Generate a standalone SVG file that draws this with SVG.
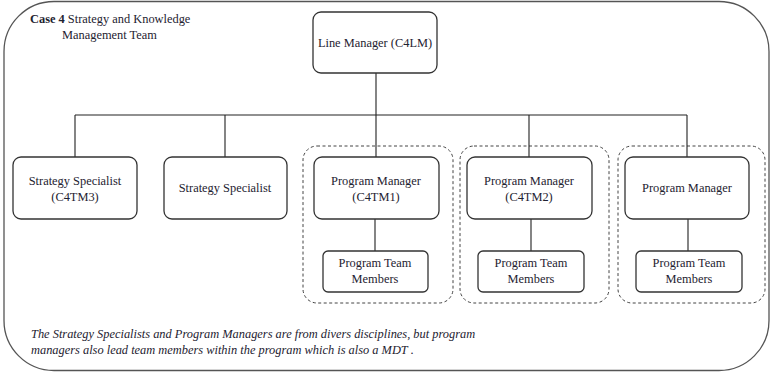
<svg xmlns="http://www.w3.org/2000/svg" width="771" height="373" viewBox="0 0 771 373">
<style>
text{font-family:'Liberation Serif','Times New Roman',serif;font-size:12.4px;fill:#1e2230}
.c{text-anchor:middle}
.box{fill:#fff;stroke:#333;stroke-width:1.3}
.grp{fill:none;stroke:#444;stroke-width:1;stroke-dasharray:3,2.5}
.ln{stroke:#222;stroke-width:1.1;fill:none}
.frame{fill:#fff;stroke:#555;stroke-width:1.3}
</style>
<rect class="frame" x="4" y="1.5" width="765" height="369" rx="50" ry="50"/>
<g id="title">
<text x="30" y="23"><tspan font-weight="bold">Case 4</tspan> Strategy and Knowledge</text>
<text x="62" y="38.5">Management Team</text>
</g>
<g id="groups">
<rect class="grp" x="303" y="146" width="150" height="157" rx="14"/>
<rect class="grp" x="460" y="146" width="149" height="157" rx="14"/>
<rect class="grp" x="618" y="146" width="147" height="157" rx="14"/>
</g>
<g id="connectors">
<path class="ln" d="M376 73V115M75 115H687M75 115V157M225 115V157M376 115V157M529 115V157M687 115V157"/>
<path class="ln" d="M375 219V251M531 219V251M688 219V251"/>
</g>
<g id="lm"><rect class="box" x="313" y="12" width="124" height="61" rx="8"/><text class="c" x="375" y="47">Line Manager (C4LM)</text></g>
<g id="ss1"><rect class="box" x="13" y="157" width="124" height="62" rx="8"/><text class="c" x="75" y="185">Strategy Specialist</text><text class="c" x="75" y="201">(C4TM3)</text></g>
<g id="ss2"><rect class="box" x="164" y="157" width="123" height="62" rx="8"/><text class="c" x="225" y="192">Strategy Specialist</text></g>
<g id="pm1"><rect class="box" x="314" y="157" width="125" height="62" rx="8"/><text class="c" x="376" y="185">Program Manager</text><text class="c" x="376" y="201">(C4TM1)</text></g>
<g id="pm2"><rect class="box" x="467" y="157" width="125" height="62" rx="8"/><text class="c" x="529" y="185">Program Manager</text><text class="c" x="529" y="201">(C4TM2)</text></g>
<g id="pm3"><rect class="box" x="625" y="157" width="124" height="62" rx="8"/><text class="c" x="687" y="192">Program Manager</text></g>
<g id="tm1"><rect class="box" x="323" y="251" width="105" height="41" rx="5"/><text class="c" x="375" y="267">Program Team</text><text class="c" x="375" y="283">Members</text></g>
<g id="tm2"><rect class="box" x="478" y="251" width="106" height="41" rx="5"/><text class="c" x="531" y="267">Program Team</text><text class="c" x="531" y="283">Members</text></g>
<g id="tm3"><rect class="box" x="636" y="251" width="106" height="41" rx="5"/><text class="c" x="689" y="267">Program Team</text><text class="c" x="689" y="283">Members</text></g>
<g id="note">
<text x="31" y="338" font-style="italic">The Strategy Specialists and Program Managers are from divers disciplines, but program</text>
<text x="31" y="354" font-style="italic">managers also lead team members within the program which is also a MDT .</text>
</g>
</svg>
